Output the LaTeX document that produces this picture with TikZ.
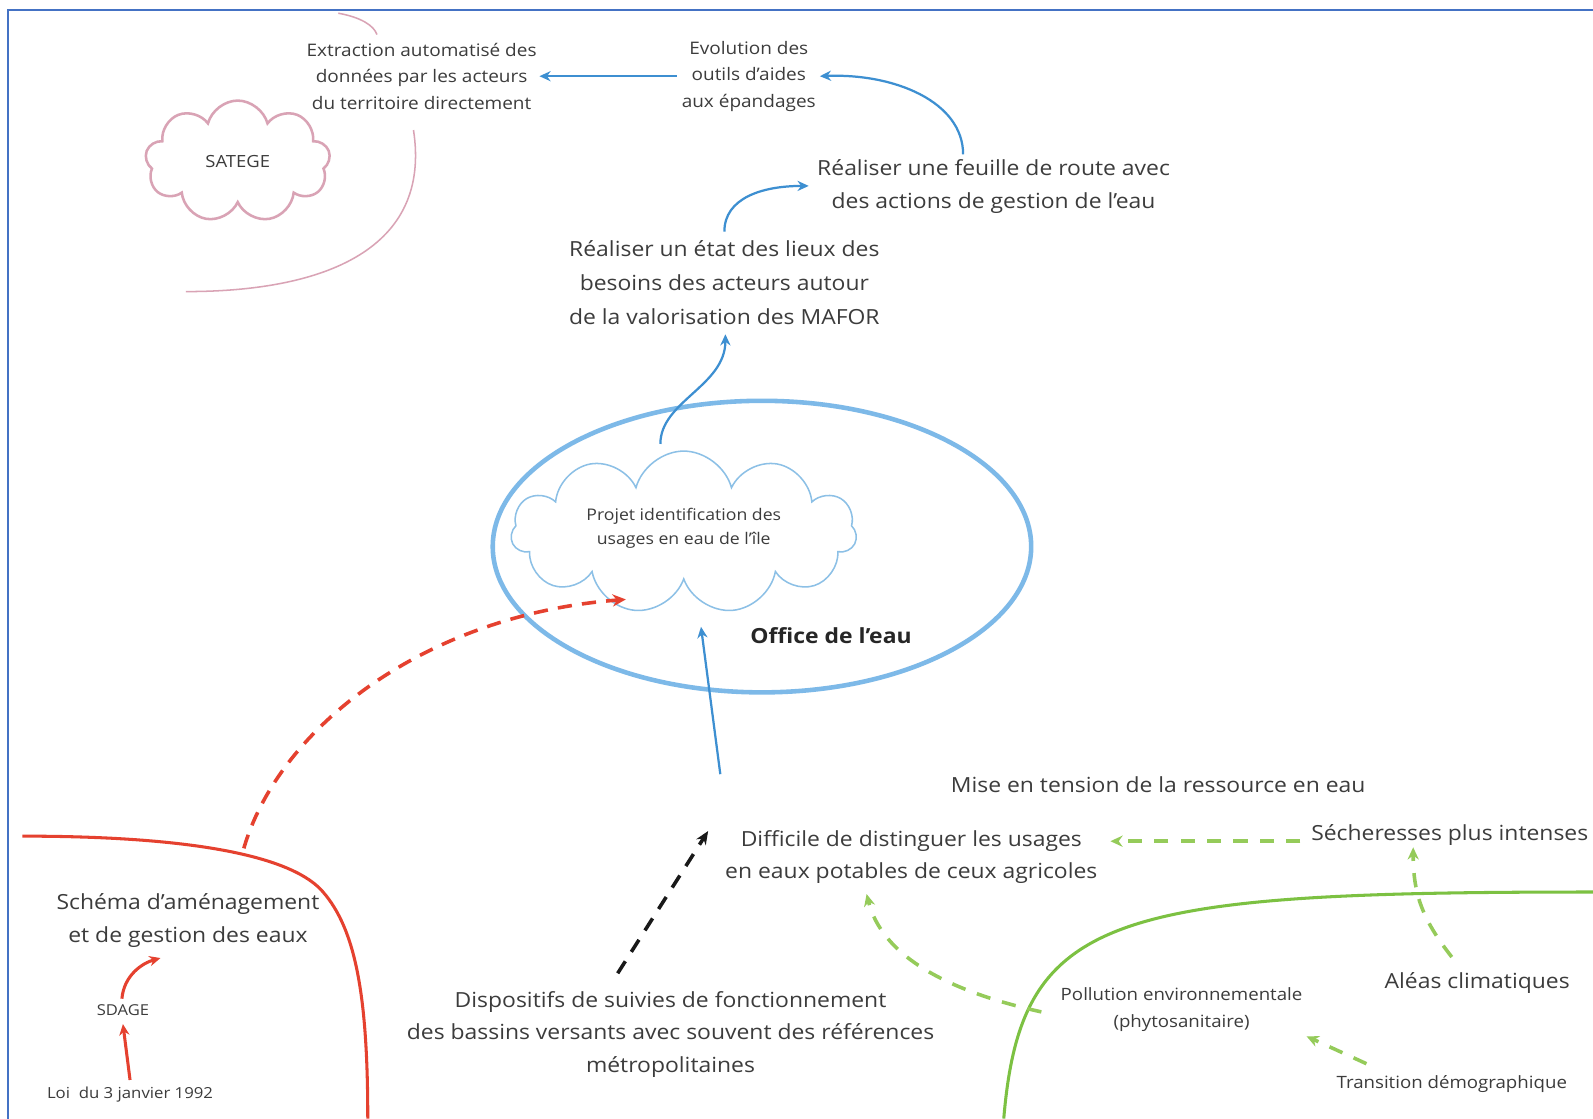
\documentclass[tikz,border=0pt]{standalone}
\usepackage{fontspec}
\setmainfont{Open Sans}[FakeStretch=1.1]
\usetikzlibrary{arrows.meta,shapes.symbols,shapes.geometric}
\definecolor{framec}{HTML}{4472C4}
\definecolor{txt}{HTML}{3C3C3C}
\definecolor{bluearr}{HTML}{3D8FD1}
\definecolor{ellblue}{HTML}{7DB9E8}
\definecolor{cloudblue}{HTML}{8CC0E6}
\definecolor{pinkc}{HTML}{D9A3B5}
\definecolor{redc}{HTML}{E5412F}
\definecolor{greenc}{HTML}{7CC142}
\definecolor{greend}{HTML}{95CB5A}
\begin{document}
\begin{tikzpicture}[x=1pt,y=-1pt,
  lbl/.style={text=txt, align=center, inner sep=0pt},
  bigtxt/.style={lbl, font=\fontsize{20.5}{33}\selectfont},
  midtxt/.style={lbl, font=\fontsize{17}{26}\selectfont},
  smalltxt/.style={lbl, font=\fontsize{16.7}{26}\selectfont},
  bluearrow/.style={draw=bluearr, line width=2.2pt, -{Stealth[length=11pt,width=10pt]}},
  reddash/.style={draw=redc, line width=3.5pt, dash pattern=on 14pt off 10pt, -{Stealth[length=13pt,width=12pt]}},
  redarrow/.style={draw=redc, line width=3pt, -{Stealth[length=11pt,width=10pt]}},
  blackdash/.style={draw=black!90, line width=3.5pt, dash pattern=on 14pt off 11pt, -{Stealth[length=13pt,width=11pt]}},
  greendash/.style={draw=greend, line width=3.5pt, dash pattern=on 14pt off 12pt, -{Stealth[length=12pt,width=11pt]}},
]
\useasboundingbox (0,0) rectangle (1568,1101);
\fill[white] (0,0) rectangle (1568,1101);
% frame
\draw[framec, line width=2pt] (8,1101) -- (8,10) -- (1568,10);

% pink region and SATEGE
\draw[pinkc, line width=1.5pt] (407,128) .. controls (425,245) and (320,287) .. (183,287);
\draw[pinkc, line width=1.5pt] (333,13) .. controls (355,17) and (368,25) .. (371,34);
\node[cloud, cloud puffs=9, cloud ignores aspect, draw=pinkc, line width=2.5pt,
      minimum width=182pt, minimum height=120pt, text=txt,
      font=\fontsize{16.5}{18}\selectfont] (sat) at (234,159) {SATEGE};

% top texts
\node[midtxt] (extr) at (415,75) {Extraction automatisé des\\données par les acteurs\\du territoire directement};
\node[midtxt] (evol) at (737,75) {Evolution des\\outils d'aides\\aux épandages};
\node[bigtxt] (feuille) at (978,183.5) {Réaliser une feuille de route avec\\des actions de gestion de l'eau};
\node[bigtxt, font=\fontsize{20.5}{33.5}\selectfont] (etat) at (713,278.5) {Réaliser un état des lieux des\\besoins des acteurs autour\\de la valorisation des MAFOR};

% office ellipse and cloud
\node[ellipse, draw=ellblue, line width=4.5pt, minimum width=530pt, minimum height=287pt] (office) at (750,538) {};
\node[cloud, cloud puffs=11, cloud ignores aspect, draw=cloudblue, line width=1.5pt,
      minimum width=340pt, minimum height=160pt] (projshape) at (673,524) {};
\node[lbl, font=\fontsize{15.8}{23}\selectfont] (proj) at (673,520) {Projet identification des\\usages en eau de l'île};
\node[lbl, font=\bfseries\fontsize{20.5}{24}\selectfont, text=black!85] (officelbl) at (818,626) {Office de l'eau};

% blue connectors
\coordinate (evolL) at (666,75);
\coordinate (extrR) at (531,75);
\coordinate (feuT) at (948,152);
\coordinate (evolR) at (807,75);
\coordinate (etatT) at (713,228);
\coordinate (feuL) at (796,183);
\coordinate (projT) at (650,437);
\coordinate (etatB) at (714,329);
\coordinate (diffT) at (709,762);
\coordinate (projB) at (690,617);
\draw[bluearrow] (evolL) -- (extrR);
\draw[bluearrow] (feuT) .. controls (948,100) and (880,72) .. (evolR);
\draw[bluearrow] (etatT) .. controls (713,195) and (750,183) .. (feuL);
\draw[bluearrow] (projT) .. controls (650,395) and (714,380) .. (etatB);
\draw[bluearrow] (diffT) -- (projB);

% red region
\draw[redc, line width=3pt] (22,823) .. controls (200,823) and (290,845) .. (318,878)
   .. controls (350,915) and (362,980) .. (362,1101);
\node[bigtxt, font=\fontsize{20.5}{32}\selectfont] (schema) at (185,906) {Schéma d'aménagement\\et de gestion des eaux};
\node[lbl, font=\fontsize{14.8}{18}\selectfont] (sdage) at (121,994) {SDAGE};
\node[lbl, font=\fontsize{15}{18}\selectfont] (loi) at (128,1077) {Loi~~du 3 janvier 1992};
\coordinate (redS) at (240,835);
\coordinate (projL) at (616,590);
\draw[reddash] (redS) .. controls (275,715) and (420,605) .. (projL);
\draw[redarrow] (120,983) .. controls (122,960) and (140,948) .. (158,943);
\draw[redarrow] (128,1063) -- (121,1008);

% centre bottom
\node[bigtxt, font=\fontsize{20.5}{31}\selectfont] (diff) at (897,843.5) {Difficile de distinguer les usages\\en eaux potables de ceux agricoles};
\node[bigtxt, font=\fontsize{20.5}{32}\selectfont] (disp) at (660,1018) {Dispositifs de suivies de fonctionnement\\des bassins versants avec souvent des références\\métropolitaines};
\coordinate (dispT) at (608,958);
\coordinate (diffL) at (697,818);
\draw[blackdash] (dispT) -- (diffL);

% green region
\draw[greenc, line width=3pt] (988,1101) .. controls (1005,900) and (1090,878) .. (1568,878);
\node[bigtxt] (mise) at (1140,772) {Mise en tension de la ressource en eau};
\node[bigtxt] (sech) at (1427,822) {Sécheresses plus intenses};
\node[bigtxt] (aleas) at (1454,968) {Aléas climatiques};
\node[smalltxt, font=\fontsize{16.7}{27}\selectfont] (poll) at (1163,993.5) {Pollution environnementale\\(phytosanitaire)};
\node[smalltxt] (trans) at (1429,1067) {Transition démographique};
\coordinate (sechL) at (1280,828);
\coordinate (diffR) at (1093,828);
\coordinate (aleasT) at (1429,942);
\coordinate (sechB) at (1391,834);
\coordinate (pollL) at (1025,996);
\coordinate (diffB) at (853,880);
\coordinate (transT) at (1345,1047);
\coordinate (pollR) at (1286,1020);
\draw[greendash] (sechL) -- (diffR);
\draw[greendash] (aleasT) .. controls (1400,905) and (1391,880) .. (sechB);
\draw[greendash] (pollL) .. controls (930,975) and (868,940) .. (diffB);
\draw[greendash] (transT) -- (pollR);
\end{tikzpicture}
\end{document}
